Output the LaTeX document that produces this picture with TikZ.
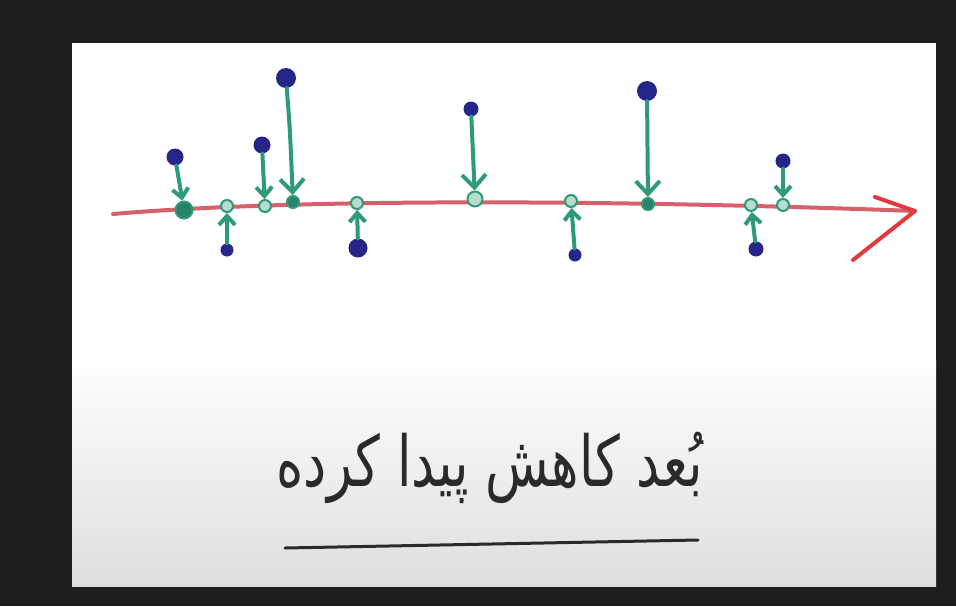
\documentclass[tikz,border=0pt]{standalone}
\usepackage{fontspec}
\newfontfamily\arabicfont[Script=Arabic]{DejaVu Sans}
\TeXXeTstate=1
\usetikzlibrary{arrows.meta}
\definecolor{bgdark}{HTML}{1E1E1E}
\definecolor{dotblue}{HTML}{26268A}
\definecolor{projgreen}{HTML}{2E9A7A}
\definecolor{axisred}{HTML}{D8606A}
\definecolor{tipred}{HTML}{E03A3E}
\definecolor{inkgray}{HTML}{2A2A2A}
\begin{document}
\begin{tikzpicture}[x=1pt,y=-1pt,
 dotbig/.style={circle,fill=dotblue,inner sep=0pt,minimum size=20pt},
 dotmid/.style={circle,fill=dotblue,inner sep=0pt,minimum size=17pt},
 dotsmall/.style={circle,fill=dotblue,inner sep=0pt,minimum size=13pt},
 proj/.style={circle,draw=projgreen,fill=projgreen!35,line width=2pt,inner sep=0pt,minimum size=12pt},
 longarrow/.style={projgreen,line width=4pt,line cap=round,-{Straight Barb[length=13pt,width=24pt,line width=4pt]}},
 shortarrow/.style={projgreen,line width=4pt,line cap=round,-{Straight Barb[length=9pt,width=16pt,line width=4pt]}},
]
\useasboundingbox (0,0) rectangle (956,606);
\fill[bgdark] (0,0) rectangle (956,606);
\fill[white] (72,43) rectangle (936,586);
\shade[top color=white,bottom color=black!13] (72,360) rectangle (936,586);

% axis
\coordinate (a0) at (113,214);
\coordinate (a1) at (915,211);
\coordinate (b1) at (875,197);
\coordinate (b2) at (853,260);
\draw[axisred,line width=4pt,line cap=round] (a0) .. controls (300,198) and (620,200) .. (a1);
\draw[tipred,line width=4pt,line cap=round,line join=round] (b1) -- (a1) -- (b2);

% projections
\node[proj,minimum size=17pt,fill=projgreen!85!black] (q1) at (184,210) {};
\node[proj] (q2) at (227,206) {};
\node[proj] (q3) at (265,206) {};
\node[proj,fill=projgreen!85!black] (q4) at (293,202) {};
\node[proj] (q5) at (357,203) {};
\node[proj,minimum size=15pt] (q6) at (475,199) {};
\node[proj] (q7) at (571,201) {};
\node[proj,fill=projgreen!85!black] (q8) at (648,204) {};
\node[proj] (q9) at (751,205) {};
\node[proj] (q10) at (783,205) {};

% data points
\node[dotmid] (p1) at (175,157) {};
\node[dotsmall] (p2) at (227,250) {};
\node[dotmid] (p3) at (262,145) {};
\node[dotbig] (p4) at (286,78) {};
\node[dotmid,minimum size=19pt] (p5) at (358,248) {};
\node[dotsmall,minimum size=15pt] (p6) at (471,109) {};
\node[dotsmall] (p7) at (575,255) {};
\node[dotbig] (p8) at (647,91) {};
\node[dotsmall,minimum size=15pt] (p9) at (756,249) {};
\node[dotsmall,minimum size=15pt] (p10) at (783,161) {};

% projection arrows
\draw[shortarrow] (p1) -- (q1);
\draw[shortarrow] (p2) -- (q2);
\draw[shortarrow] (p3) -- (q3);
\draw[longarrow] (p4) .. controls (290,130) .. (q4);
\draw[shortarrow] (p5) -- (q5);
\draw[longarrow] (p6) -- (q6);
\draw[shortarrow] (p7) -- (q7);
\draw[longarrow] (p8) -- (q8);
\draw[shortarrow] (p9) -- (q9);
\draw[shortarrow] (p10) -- (q10);

% caption
\node[text=inkgray] (cap) at (490,468) {\scalebox{1}[1.35]{\fontsize{52}{60}\selectfont\arabicfont\beginR بُعد کاهش پیدا کرده\endR}};
\coordinate (u0) at (285,548);
\coordinate (u1) at (698,540);
\draw[inkgray,line width=3pt,line cap=round] (u0) -- (u1);
\end{tikzpicture}
\end{document}
